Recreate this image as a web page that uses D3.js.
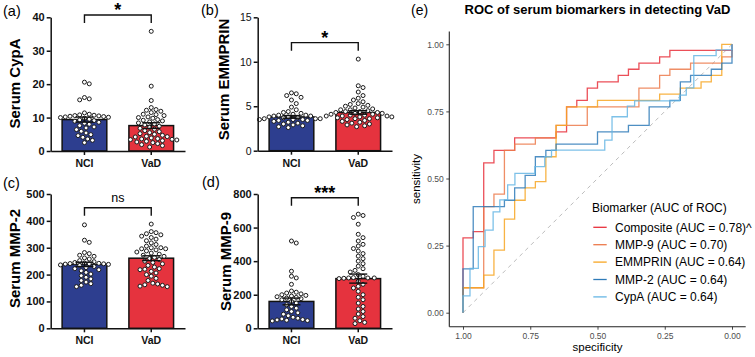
<!DOCTYPE html>
<html>
<head>
<meta charset="utf-8">
<script src="https://cdn.jsdelivr.net/npm/d3@7"></script>
<style>
body { margin: 0; background: #fff; }
svg { display: block; font-family: "Liberation Sans", Arial, sans-serif; }
</style>
</head>
<body>
<svg id="fig" width="755" height="357"></svg>
<script>
const groups = ['NCI', 'VaD'];
const groupColors = ['#2d3e8f', '#e5333e'];

// individual values
const cypaNCI = [20.6, 20.1, 16.0, 15.6, 15.3, 11.4, 11.0, 10.8, 10.7, 10.6, 10.5, 10.4, 10.3, 10.2, 10.1, 10.0, 9.8, 9.5,
	9.3, 9.1, 8.9, 8.6, 8.3, 8.0, 7.6, 7.2, 6.9, 6.4, 5.9, 5.4, 4.9, 4.6, 4.1, 3.6, 3.2, 2.5];
const cypaVaD = [35.8, 19.4, 15.1, 13.0, 12.4, 12.2, 11.9, 11.5, 11.0, 10.9, 10.6, 10.2, 10.0, 9.8, 9.4, 9.2, 9.0, 8.7,
	8.4, 8.1, 7.8, 7.4, 7.1, 6.8, 6.5, 6.1, 5.8, 5.5, 5.2, 5.0, 4.7, 4.4, 4.2, 3.9, 3.7, 3.5, 3.4, 3.3, 3.1, 2.9,
	2.7, 2.5, 2.2, 1.9, 1.6, 1.2, 3.6, 4.3];
const cypaMean = [9.4, 7.6];
const cypaSem = [0.75, 0.85];
const cypaTicks = [0, 10, 20, 30, 40];

const emmNCI = [6.5, 6.4, 6.2, 6.0, 5.7, 5.3, 4.9, 4.6, 4.4, 4.3, 4.2, 4.1, 4.0, 4.0, 3.9, 3.9, 3.8, 3.8, 3.7, 3.7,
	3.6, 3.6, 3.6, 3.5, 3.5, 3.4, 3.4, 3.3, 3.2, 3.1, 3.0, 2.9, 2.8, 2.7, 2.6, 3.5];
const emmVaD = [10.3, 7.3, 7.1, 6.6, 6.2, 5.9, 5.7, 5.5, 5.3, 5.1, 5.0, 4.9, 4.8, 4.7, 4.6, 4.5, 4.4, 4.4, 4.3, 4.3,
	4.2, 4.2, 4.1, 4.0, 4.0, 3.9, 3.9, 3.8, 3.8, 3.7, 3.7, 3.6, 3.5, 3.4, 3.3, 3.2, 3.1, 3.0, 2.9, 2.8, 2.7, 3.6,
	4.1, 3.9, 4.6, 5.2];
const emmMean = [3.8, 4.3];
const emmSem = [0.15, 0.2];
const emmTicks = [0, 5, 10, 15];

const mmp2NCI = [385, 328, 320, 282, 278, 272, 268, 262, 258, 252, 248, 245, 243, 241, 240, 240, 239, 238, 236, 234,
	230, 226, 222, 218, 214, 208, 202, 196, 190, 184, 178, 172, 166, 160, 155, 242];
const mmp2VaD = [388, 360, 356, 352, 348, 343, 338, 332, 326, 318, 312, 306, 300, 296, 292, 288, 284, 280, 276, 272,
	268, 264, 260, 256, 250, 245, 240, 234, 228, 222, 218, 212, 206, 200, 194, 186, 178, 168, 165, 162, 160, 157,
	155, 220, 296, 300];
const mmp2Mean = [238, 261];
const mmp2Sem = [8, 9];
const mmp2Ticks = [0, 100, 200, 300, 400, 500];

const mmp9NCI = [520, 508, 340, 310, 300, 262, 222, 215, 210, 205, 200, 196, 192, 188, 184, 180, 176, 170, 160, 150,
	140, 130, 120, 110, 100, 92, 84, 75, 66, 60, 56, 52, 50, 48, 46, 44];
const mmp9VaD = [680, 672, 660, 620, 560, 540, 520, 500, 490, 475, 460, 445, 430, 415, 400, 385, 370, 355, 345, 335,
	320, 310, 300, 300, 298, 296, 280, 262, 240, 220, 200, 185, 170, 150, 130, 115, 100, 85, 70, 60, 45, 35, 28,
	300, 302, 250];
const mmp9Mean = [160, 296];
const mmp9Sem = [20, 27];
const mmp9Ticks = [0, 200, 400, 600, 800];

// ROC coordinates [specificity, sensitivity]
const rocComposite = [[1, 0], [1, .279], [.962, .279], [.962, .302], [.923, .302], [.923, .558], [.885, .558], [.885, .605],
	[.808, .605], [.808, .651], [.654, .651], [.654, .674], [.615, .674], [.615, .767], [.577, .767], [.577, .791],
	[.538, .791], [.538, .837], [.5, .837], [.5, .86], [.423, .86], [.423, .884], [.385, .884], [.385, .907],
	[.346, .907], [.346, .93], [.269, .93], [.269, .953], [.231, .953], [.231, .977], [0, .977], [0, 1]];
const rocMMP9 = [[1, 0], [1, .093], [.923, .093], [.923, .395], [.885, .395], [.885, .442], [.846, .442], [.846, .605],
	[.808, .605], [.808, .628], [.731, .628], [.731, .651], [.654, .651], [.654, .698], [.538, .698], [.538, .767],
	[.346, .767], [.346, .837], [.269, .837], [.269, .884], [.231, .884], [.231, .907], [.154, .907], [.154, .93],
	[.038, .93], [.038, .953], [0, .953], [0, 1]];
const rocEMMPRIN = [[1, 0], [1, .093], [.923, .093], [.923, .14], [.885, .14], [.885, .233], [.846, .233], [.846, .349],
	[.808, .349], [.808, .419], [.769, .419], [.769, .465], [.731, .465], [.731, .488], [.692, .488], [.692, .581],
	[.654, .581], [.654, .698], [.615, .698], [.615, .767], [.5, .767], [.5, .791], [.269, .791], [.269, .814],
	[.192, .814], [.192, .837], [.115, .837], [.115, .86], [.077, .86], [.077, .884], [.038, .884], [.038, 1], [0, 1]];
const rocMMP2 = [[1, 0], [1, .163], [.962, .163], [.962, .395], [.846, .395], [.846, .419], [.808, .419], [.808, .465],
	[.769, .465], [.769, .512], [.731, .512], [.731, .581], [.692, .581], [.692, .605], [.654, .605], [.654, .628],
	[.5, .628], [.5, .674], [.385, .674], [.385, .698], [.308, .698], [.308, .767], [.231, .767], [.231, .791],
	[.192, .791], [.192, .86], [.154, .86], [.154, .884], [.077, .884], [.077, .907], [.038, .907], [.038, .93],
	[0, .93], [0, 1]];
const rocCypA = [[1, 0], [1, .063], [.974, .063], [.974, .165], [.943, .165], [.943, .246], [.918, .246], [.918, .308],
	[.888, .308], [.888, .376], [.863, .376], [.863, .42], [.834, .42], [.834, .476], [.807, .476], [.807, .519],
	[.733, .519], [.733, .544], [.696, .544], [.696, .581], [.671, .581], [.671, .606], [.473, .606], [.473, .643],
	[.446, .643], [.446, .73], [.389, .73], [.389, .77], [.362, .77], [.362, .789], [.195, .789], [.195, .811],
	[.17, .811], [.17, .838], [.142, .838], [.142, .958], [.059, .958], [.059, .979], [0, .979], [0, 1]];
const rocNames = ['Composite (AUC = 0.78)^', 'MMP-9 (AUC = 0.70)', 'EMMPRIN (AUC = 0.64)', 'MMP-2 (AUC = 0.64)', 'CypA (AUC = 0.64)'];
const rocColors = ['#e8303b', '#ec7a4b', '#f7a623', '#2f7bb8', '#66b6e4'];
const rocTicks = [0, 0.25, 0.5, 0.75, 1];

const svg = d3.select('#fig');
svg.append('rect').attr('width', 755).attr('height', 357).attr('fill', '#fff');

const dotR = 2;

// simple beeswarm, dots pushed sideways until they stop overlapping
function swarm(vals, cx, y, r){
	const d = 2 * r + 0.8;
	const pts = vals.map(function(v){ return { v: v, y: y(v) } }).sort(function(a, b){ return a.y - b.y });
	const done = [];
	pts.forEach(function(p){
		for (let k = 0; k < 200; k++){
			const x = cx + (k % 2 ? 1 : -1) * Math.ceil(k / 2) * (d / 3);
			const free = done.every(function(q){ return (q.x - x) * (q.x - x) + (q.y - p.y) * (q.y - p.y) >= d * d });
			if (free){ p.x = x; break; }
		}
		done.push(p);
	});
	return done;
}

const panels = [
	{ label: '(a)', lx: 3, ly: 16, ax: 50.7, top: 17.3, bot: 151, max: 40, ticks: cypaTicks, nci: cypaNCI, vad: cypaVaD,
		mean: cypaMean, sem: cypaSem, title: 'Serum CypA', tx: 19.5, ty: 83.5, sig: '*', brk: 40.7, bold: true },
	{ label: '(b)', lx: 201, ly: 14.5, ax: 257.7, top: 17.3, bot: 150.7, max: 15, ticks: emmTicks, nci: emmNCI, vad: emmVaD,
		mean: emmMean, sem: emmSem, title: 'Serum EMMPRIN', tx: 229, ty: 79.5, sig: '*', brk: 12.15, bold: false },
	{ label: '(c)', lx: 3, ly: 187.5, ax: 50.7, top: 194, bot: 328.3, max: 500, ticks: mmp2Ticks, nci: mmp2NCI, vad: mmp2VaD,
		mean: mmp2Mean, sem: mmp2Sem, title: 'Serum MMP-2', tx: 19.5, ty: 258.5, sig: 'ns', brk: 449, bold: true },
	{ label: '(d)', lx: 202, ly: 186.5, ax: 257.7, top: 194, bot: 328.3, max: 800, ticks: mmp9Ticks, nci: mmp9NCI, vad: mmp9VaD,
		mean: mmp9Mean, sem: mmp9Sem, title: 'Serum MMP-9', tx: 231, ty: 261.5, sig: '***', brk: 778, bold: true }
];

panels.forEach(function(p){
	const g = svg.append('g');
	const y = d3.scaleLinear().domain([0, p.max]).range([p.bot, p.top]);
	const x = d3.scaleBand().domain(groups).range([p.ax, p.ax + 134.3]).paddingInner(0.331).paddingOuter(0.171);
	const bw = x.bandwidth();
	const cx = function(gr){ return x(gr) + bw / 2 };

	g.append('text').attr('x', p.lx).attr('y', p.ly).attr('font-size', 14.5).text(p.label);
	g.append('text')
		.attr('transform', 'translate(' + p.tx + ',' + p.ty + ') rotate(-90)')
		.attr('text-anchor', 'middle').attr('font-size', 15).attr('font-weight', 'bold')
		.text(p.title);

	g.selectAll('rect.bar').data(groups).enter().append('rect')
		.attr('class', 'bar')
		.attr('x', function(d){ return x(d) })
		.attr('width', bw)
		.attr('y', function(d, i){ return y(p.mean[i]) })
		.attr('height', function(d, i){ return p.bot - y(p.mean[i]) })
		.attr('fill', function(d, i){ return groupColors[i] })
		.attr('stroke', '#111').attr('stroke-width', 1.5);

	[p.nci, p.vad].forEach(function(vals, i){
		const pts = swarm(vals, cx(groups[i]), y, dotR);
		g.append('g').selectAll('circle').data(pts).enter().append('circle')
			.attr('cx', function(d){ return d.x })
			.attr('cy', function(d){ return d.y })
			.attr('r', dotR)
			.attr('fill', '#fff').attr('stroke', '#1a1a1a').attr('stroke-width', 1);
	});

	// mean +/- SEM
	groups.forEach(function(gr, i){
		const c = cx(gr), lo = y(p.mean[i] - p.sem[i]), hi = y(p.mean[i] + p.sem[i]);
		const eb = g.append('g').attr('stroke', '#111').attr('stroke-width', 1.4);
		eb.append('line').attr('x1', c).attr('x2', c).attr('y1', lo).attr('y2', hi);
		eb.append('line').attr('x1', c - 9).attr('x2', c + 9).attr('y1', lo).attr('y2', lo);
		eb.append('line').attr('x1', c - 9).attr('x2', c + 9).attr('y1', hi).attr('y2', hi);
	});

	const yAxis = g.append('g').attr('transform', 'translate(' + p.ax + ',0)')
		.call(d3.axisLeft(y).tickValues(p.ticks).tickSize(4).tickSizeOuter(0).tickPadding(2));
	const xAxis = g.append('g').attr('transform', 'translate(0,' + p.bot + ')')
		.call(d3.axisBottom(x).tickSize(4).tickSizeOuter(0).tickPadding(4.5));
	[yAxis, xAxis].forEach(function(a){
		a.select('.domain').attr('stroke', '#111').attr('stroke-width', 1.5);
		a.selectAll('.tick line').attr('stroke', '#111').attr('stroke-width', 1.5);
		a.selectAll('text').attr('fill', '#111').attr('font-family', null);
	});
	yAxis.selectAll('text').attr('font-size', p.bold ? 11 : 10.5).attr('font-weight', p.bold ? 'bold' : 'normal');
	xAxis.selectAll('text').attr('font-size', 10.5).attr('font-weight', 'bold');

	// significance bracket
	const by = y(p.brk), x1 = cx(groups[0]), x2 = cx(groups[1]);
	g.append('path')
		.attr('d', 'M' + x1 + ',' + (by + 8) + 'V' + by + 'H' + x2 + 'V' + (by + 8))
		.attr('fill', 'none').attr('stroke', '#111').attr('stroke-width', 1.4);
	const star = p.sig !== 'ns';
	g.append('text')
		.attr('x', (x1 + x2) / 2).attr('y', star ? by + 1 : by - 6)
		.attr('text-anchor', 'middle')
		.attr('font-size', star ? 18 : 12.5).attr('font-weight', star ? 'bold' : 'normal')
		.text(p.sig);
});

// ROC panel
const xR = d3.scaleLinear().domain([1, 0]).range([463, 732]);
const yR = d3.scaleLinear().domain([0, 1]).range([312.7, 44.3]);
const roc = svg.append('g');

roc.append('text').attr('x', 411).attr('y', 14.5).attr('font-size', 14).text('(e)');
roc.append('text').attr('x', 597.5).attr('y', 14).attr('text-anchor', 'middle')
	.attr('font-size', 13).attr('font-weight', 'bold').text('ROC of serum biomarkers in detecting VaD');

const yAx = roc.append('g').attr('transform', 'translate(449.3,0)')
	.call(d3.axisLeft(yR).tickValues(rocTicks).tickFormat(d3.format('.2f')).tickSize(3).tickPadding(2.5));
const xAx = roc.append('g').attr('transform', 'translate(0,326.7)')
	.call(d3.axisBottom(xR).tickValues(rocTicks).tickFormat(d3.format('.2f')).tickSize(3).tickPadding(3));
[yAx, xAx].forEach(function(a){
	a.select('.domain').remove();
	a.selectAll('.tick line').attr('stroke', '#333').attr('stroke-width', 0.9);
	a.selectAll('text').attr('fill', '#4d4d4d').attr('font-size', 8.5).attr('font-family', null);
});
roc.append('line').attr('x1', 449.3).attr('x2', 449.3).attr('y1', 31.5).attr('y2', 326.7)
	.attr('stroke', '#222').attr('stroke-width', 1.1);
roc.append('line').attr('x1', 449.3).attr('x2', 745.7).attr('y1', 326.7).attr('y2', 326.7)
	.attr('stroke', '#222').attr('stroke-width', 1.1);

roc.append('text').attr('x', 597.5).attr('y', 351).attr('text-anchor', 'middle').attr('font-size', 11.5).text('specificity');
roc.append('text').attr('transform', 'translate(420,179) rotate(-90)').attr('text-anchor', 'middle')
	.attr('font-size', 11.5).text('sensitivity');

roc.append('line')
	.attr('x1', xR(1)).attr('y1', yR(0)).attr('x2', xR(0)).attr('y2', yR(1))
	.attr('stroke', '#bdbdbd').attr('stroke-width', 1).attr('stroke-dasharray', '4,4');

const rocSeries = [rocComposite, rocMMP9, rocEMMPRIN, rocMMP2, rocCypA];
const line = d3.line().x(function(d){ return xR(d[0]) }).y(function(d){ return yR(d[1]) });
roc.append('g').selectAll('path').data(rocSeries).enter().append('path')
	.attr('d', line)
	.attr('fill', 'none')
	.attr('stroke', function(d, i){ return rocColors[i] })
	.attr('stroke-width', 1.3)
	.attr('stroke-opacity', 0.85);

// legend
const leg = roc.append('g');
leg.append('text').attr('x', 592).attr('y', 211.5).attr('font-size', 12).text('Biomarker (AUC of ROC)');
const rows = leg.selectAll('g.row').data(rocNames).enter().append('g')
	.attr('class', 'row')
	.attr('transform', function(d, i){ return 'translate(0,' + (227.3 + i * 17.4) + ')' });
rows.append('line').attr('x1', 593.3).attr('x2', 606.7)
	.attr('stroke', function(d, i){ return rocColors[i] }).attr('stroke-width', 1.3);
rows.append('text').attr('x', 615).attr('y', 4.3).attr('font-size', 12).text(function(d){ return d });
</script>
</body>
</html>
